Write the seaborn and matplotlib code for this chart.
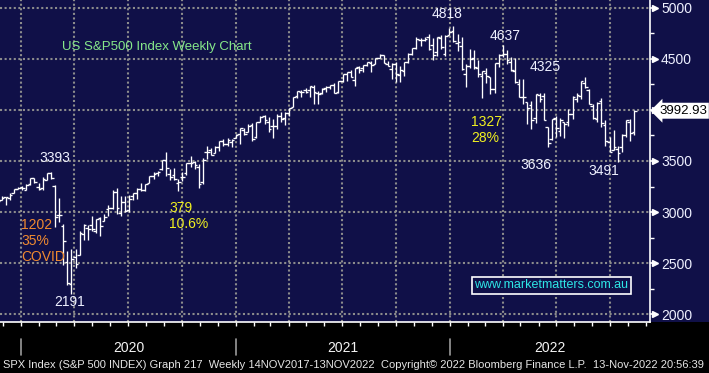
import matplotlib
matplotlib.use("Agg")
import matplotlib.pyplot as plt
import matplotlib.dates as mdates
from matplotlib.patches import Rectangle
from matplotlib.ticker import MultipleLocator, NullFormatter
import numpy as np
import pandas as pd
import seaborn as sns

# weekly bars (week ending Friday), S&P 500 index
START_WEEK = "2019-11-22"

OPEN = [3117, 3117, 3144, 3142, 3183, 3227,
        3247, 3218, 3271, 3334, 3248, 3236, 3318, 3380, 3257, 2974, 2864, 2508, 2290,
        2555, 2578, 2782, 2846, 2869, 2815, 2937, 2914, 3025, 3038, 3199, 2993, 3094,
        3018, 3155, 3191, 3224, 3219, 3288, 3356, 3380, 3419, 3507, 3370, 3363, 3285,
        3341, 3385, 3478, 3493, 3441, 3296, 3584, 3612, 3579, 3634, 3698, 3666, 3684, 3723,
        3764, 3803, 3782, 3856, 3731, 3886, 3939, 3885, 3842, 3844, 3942, 3917,
        3969, 4034, 4138, 4179, 4194, 4192, 4229, 4169, 4168, 4216, 4230, 4248, 4174,
        4284, 4356, 4372, 4297, 4417, 4407, 4437, 4462, 4450, 4513, 4536, 4450, 4402,
        4448, 4348, 4385, 4471, 4548, 4610, 4689, 4689, 4712, 4640, 4572, 4710, 4548, 4733,
        4778, 4655, 4632, 4357, 4431, 4505, 4413, 4332, 4363, 4323, 4202, 4462,
        4541, 4547, 4474, 4386, 4255, 4130, 4081, 4048, 3920, 4151, 4135, 3838, 3715,
        3920, 3792, 3880, 3883, 3965, 4112, 4142, 4269, 4195, 4041, 3910, 4084, 3849,
        3682, 3610, 3618, 3638, 3756, 3881, 3780]

HIGH = [3127, 3154, 3150, 3182, 3226, 3248,
        3259, 3275, 3330, 3337, 3285, 3347, 3385, 3393, 3260, 3137, 2882, 2614, 2637,
        2641, 2818, 2880, 2870, 2964, 2932, 2955, 2980, 3068, 3211, 3233, 3155, 3155,
        3166, 3186, 3233, 3280, 3272, 3352, 3388, 3399, 3509, 3588, 3425, 3429, 3323,
        3397, 3482, 3549, 3502, 3466, 3529, 3646, 3628, 3644, 3700, 3712, 3726, 3712, 3760,
        3826, 3823, 3861, 3870, 3887, 3937, 3950, 3928, 3914, 3960, 3983, 3979,
        4020, 4130, 4191, 4194, 4218, 4238, 4245, 4188, 4213, 4234, 4249, 4262, 4286,
        4355, 4372, 4393, 4415, 4430, 4440, 4468, 4481, 4513, 4546, 4541, 4485, 4465,
        4466, 4429, 4475, 4559, 4608, 4718, 4708, 4718, 4743, 4705, 4713, 4731, 4740, 4808,
        4819, 4749, 4714, 4453, 4595, 4590, 4490, 4385, 4416, 4327, 4465, 4546,
        4637, 4593, 4521, 4513, 4308, 4307, 4081, 4090, 4158, 4168, 4164, 3838, 3913,
        3945, 3918, 3880, 4013, 4141, 4167, 4280, 4325, 4203, 4062, 4077, 4119, 3899,
        3733, 3807, 3648, 3762, 3905, 3911, 4001]

LOW = [3091, 3115, 3070, 3121, 3183, 3222,
       3212, 3214, 3263, 3282, 3214, 3215, 3316, 3328, 2855, 2901, 2478, 2280, 2192,
       2448, 2578, 2728, 2727, 2816, 2798, 2766, 2908, 2957, 3025, 2984, 2965, 3004,
       2999, 3115, 3127, 3201, 3204, 3284, 3328, 3355, 3410, 3349, 3310, 3313, 3209,
       3303, 3361, 3440, 3419, 3233, 3279, 3518, 3554, 3577, 3594, 3645, 3647, 3636, 3723,
       3663, 3750, 3784, 3694, 3725, 3884, 3865, 3789, 3723, 3817, 3885, 3853,
       3944, 4034, 4118, 4124, 4170, 4126, 4057, 4057, 4158, 4180, 4206, 4164, 4165,
       4272, 4289, 4321, 4233, 4360, 4368, 4431, 4368, 4447, 4509, 4458, 4428, 4305,
       4279, 4278, 4329, 4465, 4537, 4595, 4630, 4672, 4585, 4495, 4531, 4600, 4531, 4733,
       4663, 4582, 4395, 4222, 4414, 4401, 4327, 4115, 4262, 4157, 4162, 4424,
       4517, 4450, 4381, 4267, 4124, 4062, 3859, 3810, 3875, 4074, 3900, 3637, 3705,
       3739, 3742, 3722, 3847, 3911, 4079, 4112, 4218, 4057, 3907, 3886, 3838, 3647,
       3584, 3608, 3492, 3590, 3733, 3698, 3751]

CLOSE = [3110, 3141, 3146, 3169, 3221, 3240,
         3235, 3265, 3330, 3295, 3226, 3328, 3380, 3338, 2954, 2972, 2711, 2305, 2541,
         2489, 2790, 2875, 2837, 2831, 2930, 2864, 2955, 3044, 3194, 3041, 3098, 3009,
         3130, 3185, 3224, 3216, 3271, 3351, 3373, 3397, 3508, 3427, 3341, 3319, 3298,
         3348, 3477, 3484, 3465, 3270, 3509, 3585, 3558, 3638, 3699, 3663, 3709, 3703, 3756,
         3825, 3768, 3841, 3714, 3887, 3934, 3906, 3811, 3842, 3943, 3913, 3975,
         4020, 4129, 4185, 4180, 4181, 4233, 4174, 4156, 4204, 4230, 4247, 4166, 4281,
         4352, 4370, 4327, 4412, 4395, 4437, 4468, 4442, 4509, 4535, 4459, 4433, 4455,
         4357, 4391, 4471, 4545, 4605, 4697, 4683, 4698, 4595, 4538, 4712, 4621, 4726, 4766,
         4677, 4663, 4398, 4432, 4501, 4419, 4349, 4385, 4329, 4204, 4463, 4543,
         4546, 4488, 4392, 4272, 4132, 4123, 4023, 3901, 4158, 4109, 3901, 3675, 3912,
         3825, 3899, 3863, 3962, 4130, 4145, 4280, 4228, 4058, 3924, 4068, 3873, 3693,
         3586, 3640, 3583, 3753, 3901, 3771, 3993]

LAST_PRICE = 3992.93
Y_TICKS = [2000, 2500, 3000, 3500, 4000, 4500, 5000]
Y_TICK_LABELS = ["2000", "2500", "3000", "3500", "", "4500", "5000"]
YEARS = [2020, 2021, 2022]

# (text, date, value, colour, align)
CALLOUTS = [
    ("3393", "2020-02-28", 3529, "#eef0ff", "center"),
    ("2191", "2020-03-24", 2118, "#eef0ff", "center"),
    ("4818", "2021-12-27", 4941, "#eef0ff", "center"),
    ("4637", "2022-04-05", 4725, "#eef0ff", "center"),
    ("4325", "2022-06-13", 4422, "#eef0ff", "center"),
    ("3636", "2022-05-27", 3461, "#eef0ff", "center"),
    ("3491", "2022-09-20", 3402, "#eef0ff", "center"),
    ("1202", "2020-01-01", 2873, "#f08a30", "left"),
    ("35%", "2020-01-01", 2716, "#f08a30", "left"),
    ("COVID", "2020-01-01", 2559, "#f08a30", "left"),
    ("379", "2020-09-10", 3039, "#f0f020", "left"),
    ("10.6%", "2020-09-10", 2882, "#f0f020", "left"),
    ("1327", "2022-02-06", 3882, "#f0f020", "left"),
    ("28%", "2022-02-06", 3725, "#f0f020", "left"),
]

FOOTER = ("SPX Index (S&P 500 INDEX) Graph 217  Weekly 14NOV2017-13NOV2022  "
          "Copyright\u00a9 2022 Bloomberg Finance L.P.  13-Nov-2022 20:56:39")

NAVY = "#101048"
GRID = "#8c8c8c"

sns.set_style("dark", {"axes.facecolor": NAVY, "figure.facecolor": NAVY})
plt.rcParams["font.family"] = ["Liberation Sans", "DejaVu Sans"]

df = pd.DataFrame({
    "week": pd.date_range(START_WEEK, periods=len(CLOSE), freq="W-FRI"),
    "open": OPEN, "high": HIGH, "low": LOW, "close": CLOSE,
})
x = mdates.date2num(df["week"])

fig = plt.figure(figsize=(7.09, 3.73), dpi=100)
fig.add_artist(Rectangle((0, 0), 1, 51 / 373, transform=fig.transFigure,
                         facecolor="black", edgecolor="none", zorder=0))
ax = fig.add_axes([0, 51 / 373, 650 / 709, 322 / 373])
ax.set_facecolor(NAVY)

# OHLC bars
tick_days = 4.5
ax.vlines(x, df["low"], df["high"], color="white", lw=0.95, zorder=3)
ax.hlines(df["open"], x - tick_days, x, color="white", lw=0.95, zorder=3)
ax.hlines(df["close"], x, x + tick_days, color="white", lw=0.95, zorder=3)

x0 = mdates.date2num(pd.Timestamp("2019-11-26 05:00"))
x1 = mdates.date2num(pd.Timestamp("2022-12-08 00:00"))
ax.set_xlim(x0, x1)
ax.set_ylim(1921.6, 5078.4)

ax.xaxis.set_major_locator(mdates.MonthLocator(bymonth=[1, 4, 7, 10]))
ax.xaxis.set_minor_locator(mdates.MonthLocator())
ax.xaxis.set_major_formatter(NullFormatter())
ax.tick_params(axis="x", which="both", bottom=True, direction="out",
               length=3, width=1, color="white")

ax.yaxis.tick_right()
ax.set_yticks(Y_TICKS)
ax.set_yticklabels(Y_TICK_LABELS)
ax.yaxis.set_minor_locator(MultipleLocator(250))
ax.tick_params(axis="y", which="major", right=True, left=False, length=4, width=1.2,
               color="white", labelcolor="#eef0ff", labelsize=10, pad=4)
ax.tick_params(axis="y", which="minor", right=True, left=False, length=3, width=1,
               color="white")
ax.plot([1.007] * len(Y_TICKS), Y_TICKS, linestyle="none", marker=">", markersize=5,
        color="white", transform=ax.get_yaxis_transform(), clip_on=False, zorder=5)

ax.grid(True, which="major", color=GRID, linestyle=(0, (1, 1.2)), linewidth=1.5)
ax.grid(False, which="minor")

for side in ["left", "top"]:
    ax.spines[side].set_visible(False)
for side in ["right", "bottom"]:
    ax.spines[side].set_visible(True)
    ax.spines[side].set_color("white")
    ax.spines[side].set_linewidth(1.2)

# last price tag
ax.text(1.0 + 9 / 650, LAST_PRICE, f"{LAST_PRICE:.2f}", transform=ax.get_yaxis_transform(),
        ha="left", va="center", color="black", fontsize=9.5,
        bbox=dict(boxstyle="larrow,pad=0.15", facecolor="white", edgecolor="none"),
        clip_on=False, zorder=6)

# texts on the chart
ax.text(62 / 650, 1 - 47 / 322, "US S&P500 Index Weekly Chart", transform=ax.transAxes,
        ha="left", va="center", color="#86e88a", fontsize=9.5)
for label, day, value, colour, align in CALLOUTS:
    ax.text(mdates.date2num(pd.Timestamp(day)), value, label, ha=align, va="center",
            color=colour, fontsize=10, zorder=6)

ax.text(551 / 650, 1 - 285.5 / 322, "www.marketmatters.com.au", transform=ax.transAxes,
        ha="center", va="center", color="#2ee6e6", fontsize=9,
        bbox=dict(boxstyle="square,pad=0.2", facecolor=NAVY, edgecolor="white", linewidth=1.2),
        zorder=6)

# year strip below the axis
xt = ax.get_xaxis_transform()
for yr in YEARS:
    start = mdates.date2num(pd.Timestamp(f"{yr}-01-01"))
    end = mdates.date2num(pd.Timestamp(f"{yr + 1}-01-01"))
    ax.plot([start, start], [-17 / 322, -33 / 322], color="#9a9a9a", lw=1.2,
            transform=xt, clip_on=False)
    mid = (max(start, x0) + min(end, x1)) / 2
    ax.text(mid, -26 / 322, str(yr), transform=xt, ha="center", va="center",
            color="#f4f4f4", fontsize=10, clip_on=False)

footer = fig.text(3 / 709, 8 / 373, FOOTER, ha="left", va="center",
                  color="#e6e6e6", fontsize=8)
# fit the footer line to the strip width
renderer = fig.canvas.get_renderer()
w = footer.get_window_extent(renderer).width
footer.set_fontsize(8 * 703 / w)

fig.savefig("out.png", dpi=100, facecolor=NAVY)
